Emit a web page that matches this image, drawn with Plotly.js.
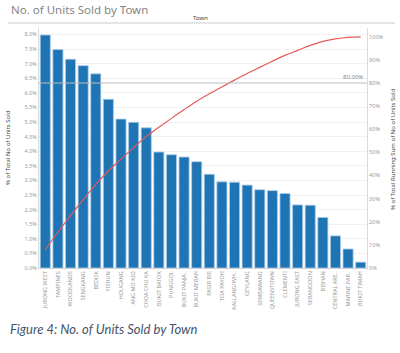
<!DOCTYPE html>
<html>
<head>
<meta charset="utf-8">
<script src="https://cdn.plot.ly/plotly-3.0.1.min.js"></script>
<style>html,body{margin:0;padding:0;background:#fff;}#chart{width:400px;height:353px;}</style>
</head>
<body>
<div id="chart"></div>
<script>
// Data
const towns = ["JURONG WEST","TAMPINES","WOODLANDS","SENGKANG","BEDOK","YISHUN","HOUGANG","ANG MO KIO","CHOA CHU KA","BUKIT BATOK","PUNGGOL","BUKIT PANJANG","BUKIT MERAH","PASIR RIS","TOA PAYOH","KALLANG/WHAMPOA","GEYLANG","SEMBAWANG","QUEENSTOWN","CLEMENTI","JURONG EAST","SERANGOON","BISHAN","CENTRAL AREA","MARINE PARADE","BUKIT TIMAH"];
const tickLabels = ["JURONG WEST","TAMPINES","WOODLANDS","SENGKANG","BEDOK","YISHUN","HOUGANG","ANG MO KIO","CHOA CHU KA","BUKIT BATOK","PUNGGOL","BUKIT PANJA..","BUKIT MERAH","PASIR RIS","TOA PAYOH","KALLANG/WH..","GEYLANG","SEMBAWANG","QUEENSTOWN","CLEMENTI","JURONG EAST","SERANGOON","BISHAN","CENTRAL ARE..","MARINE PAR..","BUKIT TIMAH"];
const pctOfTotal = [7.98,7.48,7.15,6.93,6.65,5.78,5.10,4.99,4.80,3.97,3.88,3.80,3.64,3.21,2.95,2.94,2.84,2.68,2.65,2.55,2.16,2.15,1.73,1.10,0.65,0.20];
const referencePct = 80;
const referenceLabel = "80.00%";

// Running sum of % of total (the chart's second measure)
const runningSum = [];
pctOfTotal.reduce((acc, v) => { const s = acc + v; runningSum.push(s); return s; }, 0);

const W = 400, H = 353;
const px = v => v / W;
const py = v => 1 - v / H;
const xL = 39, xR = 367, yTop = 28, yBot = 268;

const traces = [
  {
    type: 'bar', x: towns, y: pctOfTotal, yaxis: 'y',
    marker: {color: '#1f74b4', line: {color: '#a9cbe9', width: 0.8}},
    hoverinfo: 'x+y'
  },
  {
    type: 'scatter', mode: 'lines', x: towns, y: runningSum, yaxis: 'y2',
    line: {color: '#e45a5c', width: 1.2, shape: 'spline', smoothing: 1},
    hoverinfo: 'x+y'
  }
];

const tickFont = {family: 'Noto Sans, sans-serif', size: 5.5, color: '#9a9a9a'};

const layout = {
  width: W, height: H,
  margin: {l: 0, r: 0, t: 0, b: 0},
  paper_bgcolor: '#ffffff', plot_bgcolor: '#ffffff',
  showlegend: false,
  bargap: 0.2,
  xaxis: {
    domain: [px(xL), px(xR)],
    type: 'category',
    tickvals: towns, ticktext: tickLabels,
    tickangle: -90, tickfont: tickFont,
    showline: true, linecolor: '#d0d0d0', linewidth: 1,
    ticks: '', showgrid: false, fixedrange: true, automargin: false
  },
  yaxis: {
    domain: [py(yBot), py(yTop)],
    range: [0, 8.22],
    dtick: 0.5, tick0: 0, tickformat: '.1f', ticksuffix: '%',
    tickfont: tickFont, ticks: '',
    showgrid: true, gridcolor: '#f1f1f1', gridwidth: 1,
    zeroline: false,
    showline: true, linecolor: '#dcdcdc', linewidth: 1,
    automargin: false
  },
  yaxis2: {
    overlaying: 'y', side: 'right', anchor: 'x',
    range: [0, 103.8],
    dtick: 10, tick0: 0, tickformat: 'd', ticksuffix: '%',
    tickfont: tickFont, ticks: '',
    showgrid: false, zeroline: false,
    showline: true, linecolor: '#dcdcdc', linewidth: 1,
    automargin: false
  },
  shapes: [
    {type: 'line', xref: 'paper', yref: 'paper', x0: px(8), x1: px(395), y0: py(23), y1: py(23), line: {color: '#dddddd', width: 1.5}},
    {type: 'line', xref: 'paper', yref: 'y2', x0: px(xL), x1: px(xR), y0: referencePct, y1: referencePct, line: {color: '#bdbdbd', width: 1}}
  ],
  annotations: [
    {text: 'No. of Units Sold by Town', xref: 'paper', yref: 'paper', x: px(9), y: py(9), xanchor: 'left', yanchor: 'middle', showarrow: false, font: {family: 'Noto Sans, sans-serif', size: 11.5, color: '#858585'}},
    {text: 'Town', xref: 'paper', yref: 'paper', x: px(201), y: py(18), xanchor: 'center', yanchor: 'middle', showarrow: false, font: {family: 'Noto Sans, sans-serif', size: 6, color: '#444'}},
    {text: referenceLabel, xref: 'paper', yref: 'y2', x: px(xR - 2), y: referencePct, xanchor: 'right', yanchor: 'bottom', showarrow: false, font: {family: 'Noto Sans, sans-serif', size: 6, color: '#8a8a8a'}},
    {text: '% of Total No of Units Sold', xref: 'paper', yref: 'paper', x: px(8), y: py((yTop + yBot) / 2), xanchor: 'center', yanchor: 'middle', textangle: -90, showarrow: false, font: {family: 'Noto Sans, sans-serif', size: 6, color: '#444'}},
    {text: '% of Total Running Sum of No of Units Sold', xref: 'paper', yref: 'paper', x: px(393), y: py(150), xanchor: 'center', yanchor: 'middle', textangle: -90, showarrow: false, font: {family: 'Noto Sans, sans-serif', size: 6, color: '#444'}},
    {text: '<i>Figure 4: No. of Units Sold by Town</i>', xref: 'paper', yref: 'paper', x: px(8), y: py(329), xanchor: 'left', yanchor: 'middle', showarrow: false, font: {family: 'Lato, sans-serif', size: 13, color: '#44546a'}}
  ]
};

Plotly.newPlot('chart', traces, layout, {staticPlot: true, displayModeBar: false});
</script>
</body>
</html>
